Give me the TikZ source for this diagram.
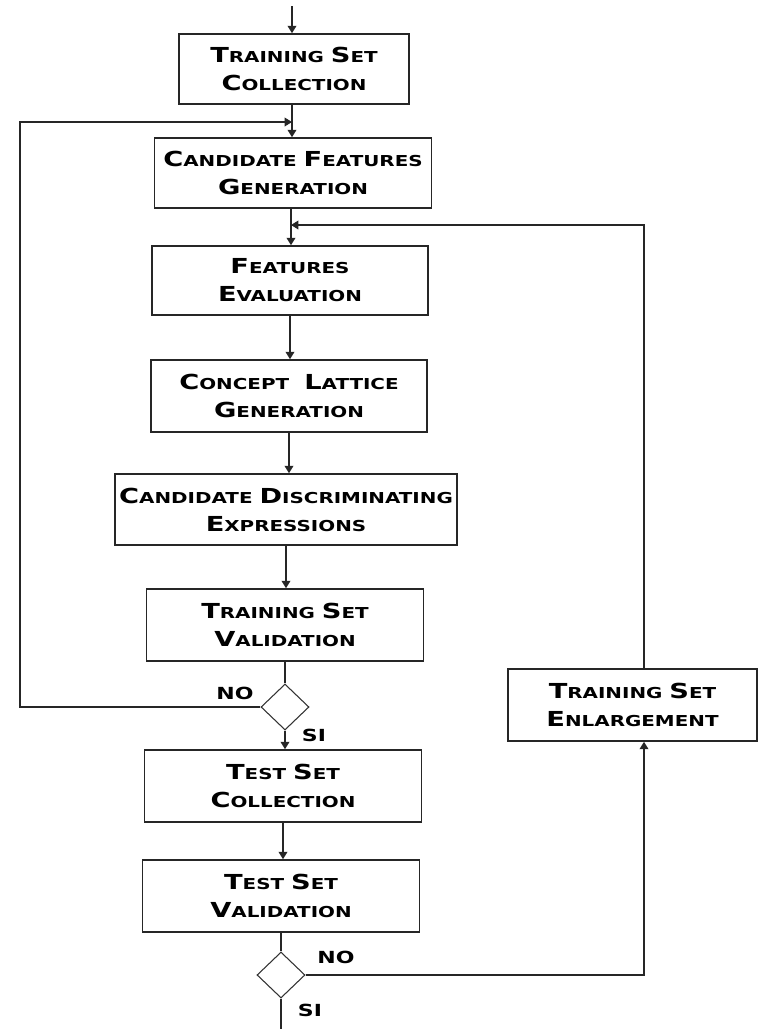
\documentclass[tikz,border=0pt]{standalone}
\usepackage{fontspec}
\usetikzlibrary{arrows.meta,shapes.geometric}
\newfontfamily\cpfont{DejaVu Sans Bold}[FakeStretch=1.32]
\newcommand\BL[2]{{\fontsize{15.5}{21}\selectfont #1}{\fontsize{11.3}{21}\selectfont #2}}
\tikzset{
  box/.style={draw=black!85, line width=1.2pt, inner sep=0pt, align=center,
    font=\cpfont\fontsize{11.3}{21}\selectfont, text=black},
  dia/.style={draw=black!80, line width=0.8pt, diamond, inner sep=0pt,
    minimum width=36pt, minimum height=34.5pt},
  conn/.style={draw=black!85, line width=1pt},
  arr/.style={conn, -{Triangle[width=6.5pt,length=5.5pt]}},
  lab/.style={font=\cpfont\fontsize{12.5}{14}\selectfont, inner sep=0pt}
}
\begin{document}
\begin{tikzpicture}[x=0.75pt,y=-0.75pt]
\useasboundingbox (0,0) rectangle (774,1029);
\node[box, minimum width=172.5pt, minimum height=52.5pt] (b1) at (294,69) {\BL{T}{RAINING} \BL{S}{ET}\\\BL{C}{OLLECTION}};
\node[box, minimum width=207.75pt, minimum height=52.5pt] (b2) at (293,173) {\BL{C}{ANDIDATE} \BL{F}{EATURES}\\\BL{G}{ENERATION}};
\node[box, minimum width=207pt, minimum height=51.75pt] (b3) at (290,280.5) {\BL{F}{EATURES}\\\BL{E}{VALUATION}};
\node[box, minimum width=207pt, minimum height=54pt] (b4) at (289,396) {\BL{C}{ONCEPT}\quad\BL{L}{ATTICE}\\\BL{G}{ENERATION}};
\node[box, minimum width=256.5pt, minimum height=53.25pt] (b5) at (286,509.5) {\BL{C}{ANDIDATE} \BL{D}{ISCRIMINATING}\\\BL{E}{XPRESSIONS}};
\node[box, minimum width=207.75pt, minimum height=54pt] (b6) at (285,625) {\BL{T}{RAINING} \BL{S}{ET}\\\BL{V}{ALIDATION}};
\node[dia] (d1) at (285,707) {};
\node[box, minimum width=207.75pt, minimum height=54pt] (b7) at (283,786) {\BL{T}{EST} \BL{S}{ET}\\\BL{C}{OLLECTION}};
\node[box, minimum width=207.75pt, minimum height=54pt] (b8) at (281,896) {\BL{T}{EST} \BL{S}{ET}\\\BL{V}{ALIDATION}};
\node[dia] (d2) at (281,975) {};
\node[box, minimum width=186.75pt, minimum height=54pt] (b9) at (632.5,705) {\BL{T}{RAINING} \BL{S}{ET}\\\BL{E}{NLARGEMENT}};
\node[lab] (no1) at (235,693) {NO};
\node[lab] (si1) at (314,735) {SI};
\node[lab] (no2) at (336,957) {NO};
\node[lab] (si2) at (310,1010) {SI};
\coordinate (start) at (292,6);
\coordinate (end) at (281,1029);
\coordinate (lx) at (20,0);
\coordinate (rx) at (644,0);
\coordinate (j1) at (292,122);
\coordinate (j2) at (291,225);
% main flow
\draw[arr] (start) -- (start |- b1.north);
\draw[arr] (j1 |- b1.south) -- (j1 |- b2.north);
\draw[arr] (j2 |- b2.south) -- (j2 |- b3.north);
\draw[arr] (b3.south) -- (b3.south |- b4.north);
\draw[arr] (b4.south) -- (b4.south |- b5.north);
\draw[arr] (b5.south) -- (b5.south |- b6.north);
\draw[conn] (b6.south) -- (d1.north);
\draw[arr] (d1.south) -- (d1.south |- b7.north);
\draw[arr] (b7.south) -- (b7.south |- b8.north);
\draw[conn] (b8.south) -- (d2.north);
\draw[conn] (d2.south) -- (end);
% loops
\draw[arr] (d1.west) -| (lx |- j1) -- (j1);
\draw[arr] (d2.east) -| (rx |- b9.south);
\draw[arr] (rx |- b9.north) |- (j2);
\end{tikzpicture}
\end{document}
